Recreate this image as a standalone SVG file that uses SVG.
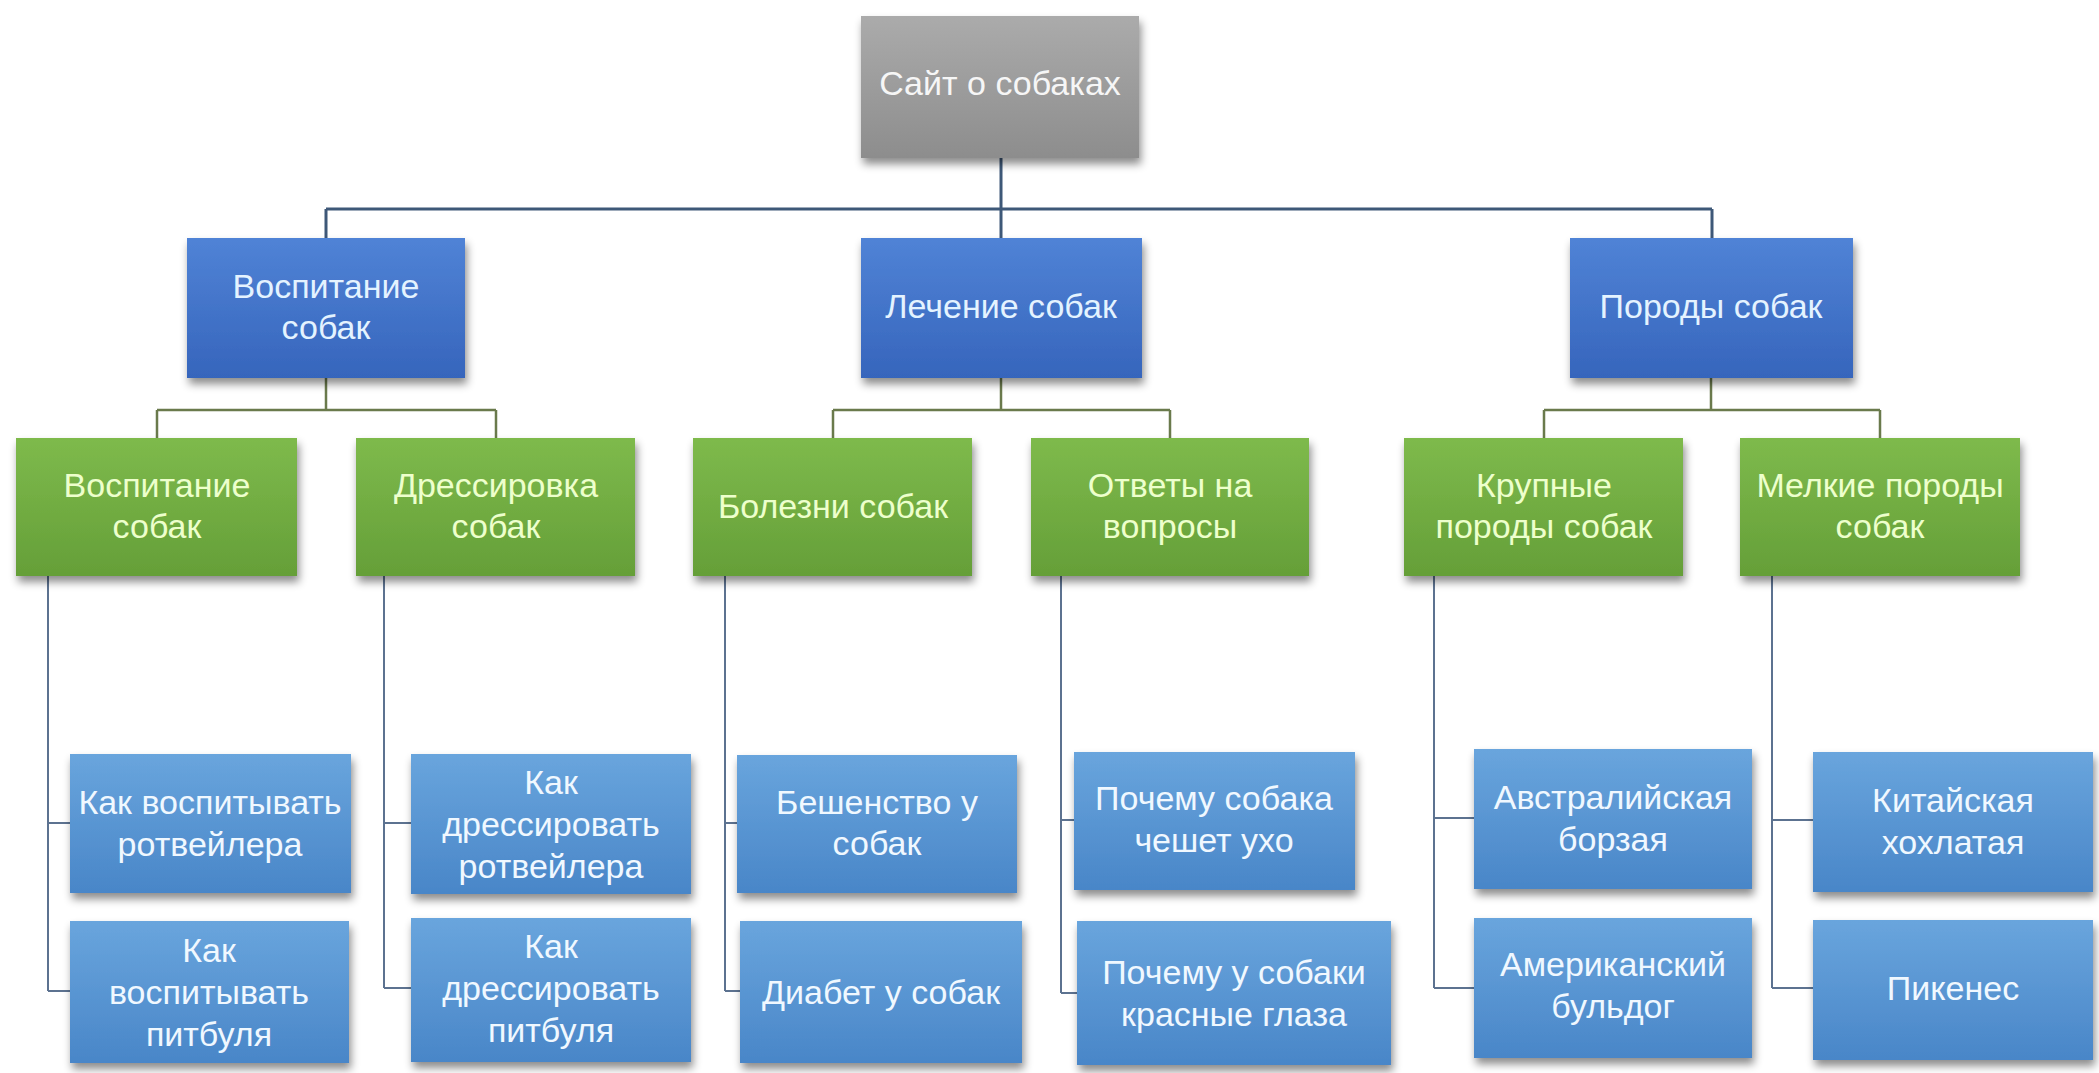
<svg xmlns="http://www.w3.org/2000/svg" width="2099" height="1073" viewBox="0 0 2099 1073">
<defs>
<linearGradient id="gGray" x1="0" y1="0" x2="0" y2="1"><stop offset="0" stop-color="#ababab"/><stop offset="1" stop-color="#8d8d8d"/></linearGradient>
<linearGradient id="gBlue" x1="0" y1="0" x2="0" y2="1"><stop offset="0" stop-color="#5083d6"/><stop offset="1" stop-color="#3665bc"/></linearGradient>
<linearGradient id="gGreen" x1="0" y1="0" x2="0" y2="1"><stop offset="0" stop-color="#7eba4c"/><stop offset="1" stop-color="#659f38"/></linearGradient>
<linearGradient id="gLeaf" x1="0" y1="0" x2="0" y2="1"><stop offset="0" stop-color="#69a5dd"/><stop offset="1" stop-color="#4986c8"/></linearGradient>
<filter id="sh" x="-10%" y="-10%" width="125%" height="135%"><feDropShadow dx="2" dy="6" stdDeviation="4" flood-color="#000" flood-opacity="0.45"/></filter>
</defs>
<style>
text{font-family:"Liberation Sans",Arial,sans-serif;font-size:34px;text-anchor:middle;dominant-baseline:central}
.root rect{fill:url(#gGray);filter:url(#sh)}
.root text{fill:#f6f6f6}
.l1 rect{fill:url(#gBlue);filter:url(#sh)}
.l1 text{fill:#e4f3ff}
.l2 rect{fill:url(#gGreen);filter:url(#sh)}
.l2 text{fill:#edffcc}
.leaf rect{fill:url(#gLeaf);filter:url(#sh)}
.leaf text{fill:#f0f8ff}
.c0{stroke:#3e5878;stroke-width:3;fill:none}
.c1{stroke:#6a7a4c;stroke-width:2.5;fill:none}
.c2{stroke:#5c7290;stroke-width:2;fill:none}
</style>
<rect width="2099" height="1073" fill="#ffffff"/>
<g id="connectors">
<path class="c0" d="M1001 158V209M326 209H1712M326 209V238M1001 209V238M1712 209V238"/>
<path class="c1" d="M326 378V410M157 410H496M157 410V438M496 410V438"/>
<path class="c1" d="M1001 378V410M833 410H1170M833 410V438M1170 410V438"/>
<path class="c1" d="M1711 378V410M1544 410H1880M1544 410V438M1880 410V438"/>
<path class="c2" d="M48 576V991M48 823H70M48 991H70"/>
<path class="c2" d="M384 576V988M384 823H411M384 988H411"/>
<path class="c2" d="M725 576V991M725 823H737M725 991H740"/>
<path class="c2" d="M1061 576V993M1061 820H1074M1061 993H1077"/>
<path class="c2" d="M1434 576V988M1434 818H1474M1434 988H1474"/>
<path class="c2" d="M1772 576V988M1772 820H1813M1772 988H1813"/>
</g>
<g id="root" class="root"><rect x="861" y="16" width="278" height="142"/><text x="1000" y="83">Сайт о собаках</text></g>
<g id="n-vospitanie" class="l1"><rect x="187" y="238" width="278" height="140"/><text><tspan x="326" y="286">Воспитание</tspan><tspan x="326" y="327">собак</tspan></text></g>
<g id="n-lechenie" class="l1"><rect x="861" y="238" width="281" height="140"/><text x="1001" y="306">Лечение собак</text></g>
<g id="n-porody" class="l1"><rect x="1570" y="238" width="283" height="140"/><text x="1711" y="306">Породы собак</text></g>
<g id="n-vosp2" class="l2"><rect x="16" y="438" width="281" height="138"/><text><tspan x="157" y="485">Воспитание</tspan><tspan x="157" y="526">собак</tspan></text></g>
<g id="n-dressirovka" class="l2"><rect x="356" y="438" width="279" height="138"/><text><tspan x="496" y="485">Дрессировка</tspan><tspan x="496" y="526">собак</tspan></text></g>
<g id="n-bolezni" class="l2"><rect x="693" y="438" width="279" height="138"/><text x="833" y="506">Болезни собак</text></g>
<g id="n-otvety" class="l2"><rect x="1031" y="438" width="278" height="138"/><text><tspan x="1170" y="485">Ответы на</tspan><tspan x="1170" y="526">вопросы</tspan></text></g>
<g id="n-krupnye" class="l2"><rect x="1404" y="438" width="279" height="138"/><text><tspan x="1544" y="485">Крупные</tspan><tspan x="1544" y="526">породы собак</tspan></text></g>
<g id="n-melkie" class="l2"><rect x="1740" y="438" width="280" height="138"/><text><tspan x="1880" y="485">Мелкие породы</tspan><tspan x="1880" y="526">собак</tspan></text></g>
<g id="leaf-a1" class="leaf"><rect x="70" y="754" width="281" height="139"/><text><tspan x="210" y="802">Как воспитывать</tspan><tspan x="210" y="844">ротвейлера</tspan></text></g>
<g id="leaf-a2" class="leaf"><rect x="70" y="921" width="279" height="142"/><text><tspan x="209" y="950">Как</tspan><tspan x="209" y="992">воспитывать</tspan><tspan x="209" y="1034">питбуля</tspan></text></g>
<g id="leaf-b1" class="leaf"><rect x="411" y="754" width="280" height="140"/><text><tspan x="551" y="782">Как</tspan><tspan x="551" y="824">дрессировать</tspan><tspan x="551" y="866">ротвейлера</tspan></text></g>
<g id="leaf-b2" class="leaf"><rect x="411" y="918" width="280" height="144"/><text><tspan x="551" y="946">Как</tspan><tspan x="551" y="988">дрессировать</tspan><tspan x="551" y="1030">питбуля</tspan></text></g>
<g id="leaf-c1" class="leaf"><rect x="737" y="755" width="280" height="138"/><text><tspan x="877" y="802">Бешенство у</tspan><tspan x="877" y="843">собак</tspan></text></g>
<g id="leaf-c2" class="leaf"><rect x="740" y="921" width="282" height="142"/><text x="881" y="992">Диабет у собак</text></g>
<g id="leaf-d1" class="leaf"><rect x="1074" y="752" width="281" height="138"/><text><tspan x="1214" y="798">Почему собака</tspan><tspan x="1214" y="840">чешет ухо</tspan></text></g>
<g id="leaf-d2" class="leaf"><rect x="1077" y="921" width="314" height="144"/><text><tspan x="1234" y="972">Почему у собаки</tspan><tspan x="1234" y="1014">красные глаза</tspan></text></g>
<g id="leaf-e1" class="leaf"><rect x="1474" y="749" width="278" height="140"/><text><tspan x="1613" y="797">Австралийская</tspan><tspan x="1613" y="839">борзая</tspan></text></g>
<g id="leaf-e2" class="leaf"><rect x="1474" y="918" width="278" height="140"/><text><tspan x="1613" y="964">Американский</tspan><tspan x="1613" y="1006">бульдог</tspan></text></g>
<g id="leaf-f1" class="leaf"><rect x="1813" y="752" width="280" height="140"/><text><tspan x="1953" y="800">Китайская</tspan><tspan x="1953" y="842">хохлатая</tspan></text></g>
<g id="leaf-f2" class="leaf"><rect x="1813" y="920" width="280" height="140"/><text x="1953" y="988">Пикенес</text></g>
</svg>
